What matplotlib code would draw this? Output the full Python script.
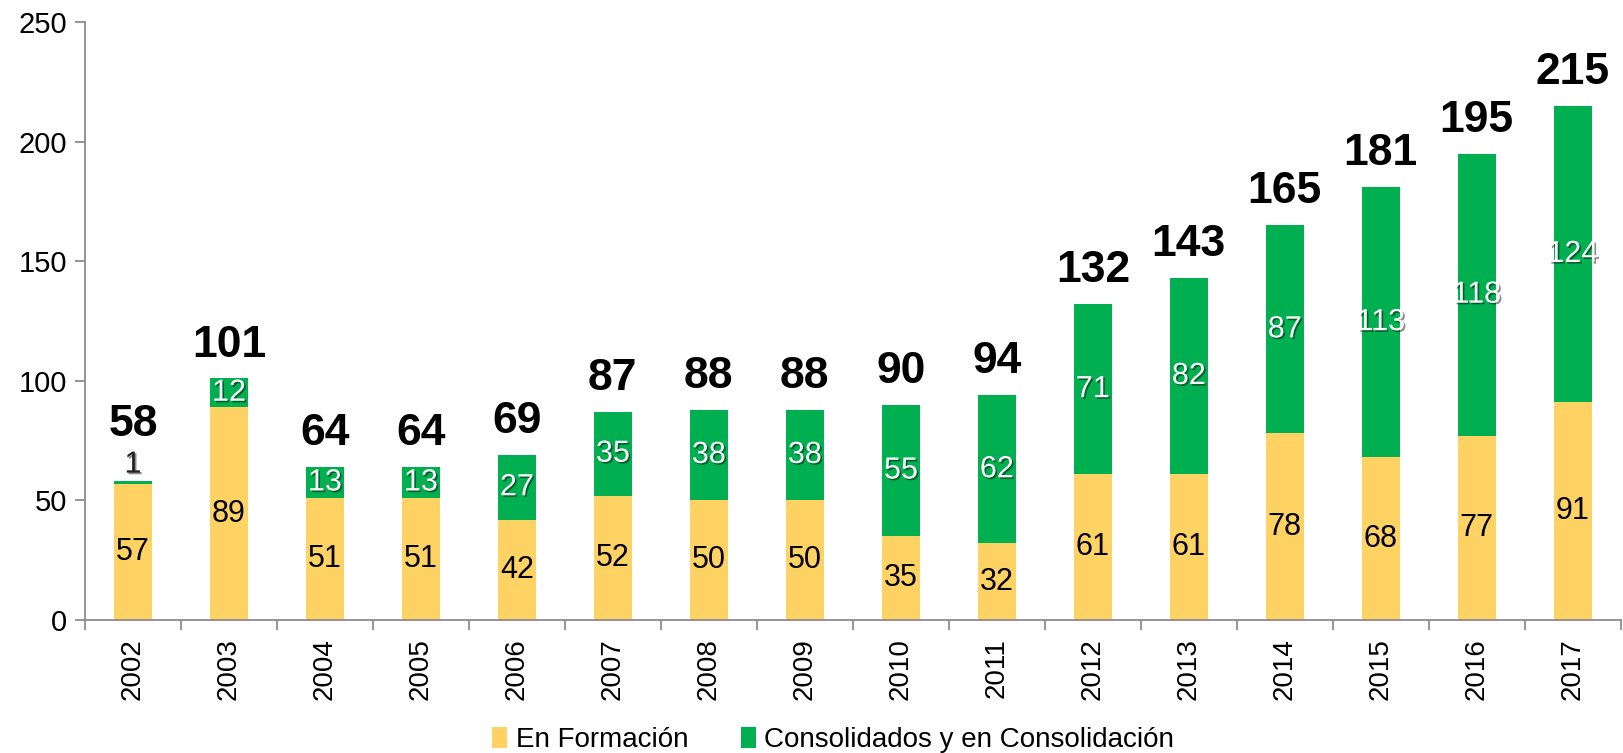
import numpy as np
import matplotlib
matplotlib.use("Agg")
import matplotlib.pyplot as plt
import matplotlib.patheffects as pe

# data
years = ["2002", "2003", "2004", "2005", "2006", "2007", "2008", "2009",
         "2010", "2011", "2012", "2013", "2014", "2015", "2016", "2017"]
en_formacion = [57, 89, 51, 51, 42, 52, 50, 50, 35, 32, 61, 61, 78, 68, 77, 91]
consolidados = [1, 12, 13, 13, 27, 35, 38, 38, 55, 62, 71, 82, 87, 113, 118, 124]
totals = [58, 101, 64, 64, 69, 87, 88, 88, 90, 94, 132, 143, 165, 181, 195, 215]

yellow = "#FFD264"
green = "#00B050"
axis_grey = "#8C8C8C"

plt.rcParams["font.family"] = ["Liberation Sans", "DejaVu Sans"]

fig = plt.figure(figsize=(16.24, 7.53), dpi=100)
ax = fig.add_axes([0.0523, 0.1766, 0.9457, 0.7942])

x = np.arange(len(years))
w = 0.4
ax.bar(x, en_formacion, w, color=yellow, label="En Formación", zorder=2)
ax.bar(x, consolidados, w, bottom=en_formacion, color=green,
       label="Consolidados y en Consolidación", zorder=2)

shadow = [pe.withSimplePatchShadow(offset=(1.2, -1.2), shadow_rgbFace="black", alpha=0.45)]

for i in range(len(years)):
    # yellow segment label
    ax.text(x[i], en_formacion[i] / 2, str(en_formacion[i]), ha="center", va="center",
            fontsize=22, color="black", zorder=3)
    # green segment label
    if consolidados[i] < 5:
        ax.annotate(str(consolidados[i]), (x[i], totals[i]), xytext=(0, 12),
                    textcoords="offset points", ha="center", va="center",
                    fontsize=22, color="#222222", path_effects=shadow, zorder=3)
        top_off = 41
    else:
        ax.text(x[i], en_formacion[i] + consolidados[i] / 2, str(consolidados[i]),
                ha="center", va="center", fontsize=22, color="white",
                path_effects=shadow, zorder=3)
        top_off = 24
    # total above the bar
    ax.annotate(str(totals[i]), (x[i], totals[i]), xytext=(0, top_off),
                textcoords="offset points", ha="center", va="center",
                fontsize=32, fontweight="bold", color="black", zorder=3)

ax.set_xlim(-0.5, len(years) - 0.5)
ax.set_ylim(0, 250)
ax.set_yticks([0, 50, 100, 150, 200, 250])

ax.set_xticks(x)
ax.set_xticklabels(years, rotation=90, fontsize=20)
ax.set_xticks(np.arange(-0.5, len(years), 1), minor=True)
ax.tick_params(axis="x", which="major", length=0, pad=13)
ax.tick_params(axis="x", which="minor", length=7, width=1.3, color=axis_grey)
ax.tick_params(axis="y", length=7, width=1.3, color=axis_grey, labelsize=21, pad=6)

for s in ["top", "right"]:
    ax.spines[s].set_visible(False)
for s in ["left", "bottom"]:
    ax.spines[s].set_color(axis_grey)
    ax.spines[s].set_linewidth(1.3)

fig.legend(loc="center", bbox_to_anchor=(0.513, 0.017), ncol=2, frameon=False,
           fontsize=20, handlelength=0.55, handleheight=0.8, handletextpad=0.3,
           columnspacing=1.9, borderpad=0)

fig.savefig("out.png", dpi=100)
